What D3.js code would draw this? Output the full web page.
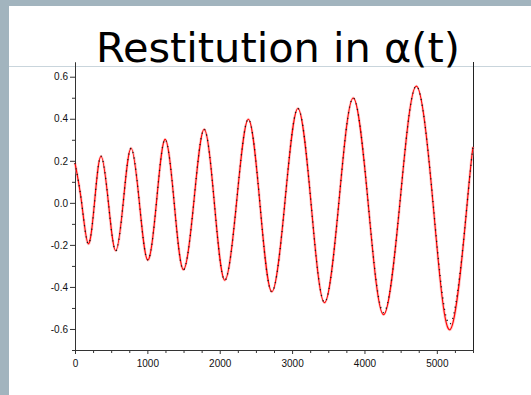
<!DOCTYPE html>
<html>
<head>
<meta charset="utf-8">
<script src="https://cdn.jsdelivr.net/npm/d3@7"></script>
<style>
  body { margin: 0; background: #fff; }
  svg { display: block; }
</style>
</head>
<body>
<svg id="chart"></svg>
<script>
const width = 531;
const height = 395;

const titleText = 'Restitution in α(t)';

// time steps (x) with extrema and crossings
const timeSteps = [0, 92, 184, 272, 360, 462, 563, 669, 775, 890, 1005, 1125, 1245, 1372,
  1498, 1641, 1784, 1927, 2070, 2232, 2395, 2557, 2720, 2900, 3080, 3264, 3448, 3646,
  3845, 4054, 4264, 4490, 4715, 4951, 5187, 5420, 5500];

// black dotted curve
const alphaBlack = [0.19, 0.0, -0.195, 0.01, 0.222, 0.0, -0.228, 0.01, 0.26, 0.0, -0.272, 0.0,
  0.302, -0.005, -0.318, 0.0, 0.35, -0.005, -0.368, 0.0, 0.398, -0.01, -0.423, 0.0,
  0.449, -0.01, -0.473, 0.0, 0.499, -0.01, -0.522, 0.0, 0.555, -0.01, -0.575, 0.0, 0.266];

// red curve
const alphaRed = [0.19, 0.0, -0.195, 0.01, 0.222, 0.0, -0.228, 0.01, 0.26, 0.0, -0.272, 0.0,
  0.302, -0.005, -0.318, 0.0, 0.35, -0.005, -0.368, 0.0, 0.398, -0.01, -0.423, 0.0,
  0.449, -0.01, -0.475, 0.0, 0.499, -0.012, -0.532, 0.0, 0.555, -0.015, -0.602, 0.0, 0.266];

const xMajorTicks = [0, 1000, 2000, 3000, 4000, 5000];
const xMinorTicks = [250, 500, 750, 1250, 1500, 1750, 2250, 2500, 2750, 3250, 3500, 3750,
  4250, 4500, 4750, 5250, 5500];
const yMajorTicks = [-0.6, -0.4, -0.2, 0.0, 0.2, 0.4, 0.6];
const yMinorTicks = [-0.7, -0.5, -0.3, -0.1, 0.1, 0.3, 0.5];

const plot = { left: 75, right: 473, top: 62, bottom: 350 };

const svg = d3.select('#chart')
  .attr('width', width)
  .attr('height', height);

// slide background
svg.append('rect')
  .attr('width', width)
  .attr('height', height)
  .attr('fill', '#a2b4be');

svg.append('rect')
  .attr('x', 9)
  .attr('y', 6)
  .attr('width', width - 9)
  .attr('height', height - 6)
  .attr('fill', '#ffffff');

svg.append('line')
  .attr('x1', 9)
  .attr('x2', width)
  .attr('y1', 66.5)
  .attr('y2', 66.5)
  .attr('stroke', '#c9d5dc')
  .attr('stroke-width', 1);

svg.append('text')
  .attr('x', 278)
  .attr('y', 62)
  .attr('text-anchor', 'middle')
  .attr('font-family', '"Comic Sans MS", "DejaVu Sans", sans-serif')
  .attr('font-size', 40)
  .attr('textLength', 364)
  .attr('lengthAdjust', 'spacingAndGlyphs')
  .attr('fill', '#000')
  .text(titleText);

const x = d3.scaleLinear()
  .domain([0, 5500])
  .range([plot.left, plot.right]);

const y = d3.scaleLinear()
  .domain([-0.7, 0.67])
  .range([plot.bottom, plot.top]);

// axes
const xAxis = d3.axisBottom(x)
  .tickValues(xMajorTicks)
  .tickFormat(d3.format('d'))
  .tickSize(4)
  .tickSizeOuter(0)
  .tickPadding(6);

const xMinor = d3.axisBottom(x)
  .tickValues(xMinorTicks)
  .tickFormat('')
  .tickSize(3)
  .tickSizeOuter(0);

const yAxis = d3.axisLeft(y)
  .tickValues(yMajorTicks)
  .tickFormat(d => d3.format('.1f')(d).replace('−', '-'))
  .tickSize(5)
  .tickSizeOuter(0)
  .tickPadding(2);

const yMinor = d3.axisLeft(y)
  .tickValues(yMinorTicks)
  .tickFormat('')
  .tickSize(3)
  .tickSizeOuter(0);

function styleAxis(g) {
  g.select('.domain').attr('stroke', '#333');
  g.selectAll('.tick line').attr('stroke', '#333');
  g.selectAll('.tick text')
    .attr('fill', '#111')
    .attr('font-family', '"Liberation Sans", Arial, sans-serif')
    .attr('font-size', 10);
}

svg.append('g')
  .attr('transform', `translate(0,${plot.bottom})`)
  .call(xMinor)
  .call(styleAxis);

svg.append('g')
  .attr('transform', `translate(0,${plot.bottom})`)
  .call(xAxis)
  .call(styleAxis);

svg.append('g')
  .attr('transform', `translate(${plot.left},0)`)
  .call(yMinor)
  .call(styleAxis);

svg.append('g')
  .attr('transform', `translate(${plot.left},0)`)
  .call(yAxis)
  .call(styleAxis);

// right border
svg.append('line')
  .attr('x1', plot.right + 0.5)
  .attr('x2', plot.right + 0.5)
  .attr('y1', plot.top)
  .attr('y2', plot.bottom)
  .attr('stroke', '#222');

// curves
const line = d3.line()
  .x(d => x(d[0]))
  .y(d => y(d[1]))
  .curve(d3.curveNatural);

const redPts = timeSteps.map((t, i) => [t, alphaRed[i]]);
const blackPts = timeSteps.map((t, i) => [t, alphaBlack[i]]);

svg.append('path')
  .datum(redPts)
  .attr('d', line)
  .attr('fill', 'none')
  .attr('stroke', '#ffa0a0')
  .attr('stroke-opacity', 0.6)
  .attr('stroke-width', 2.8);

svg.append('path')
  .datum(redPts)
  .attr('d', line)
  .attr('fill', 'none')
  .attr('stroke', '#ff0000')
  .attr('stroke-width', 1.1);

svg.append('path')
  .datum(blackPts)
  .attr('d', line)
  .attr('fill', 'none')
  .attr('stroke', '#1a1a1a')
  .attr('stroke-width', 1.3)
  .attr('stroke-dasharray', '1.2,4.5');
</script>
</body>
</html>
